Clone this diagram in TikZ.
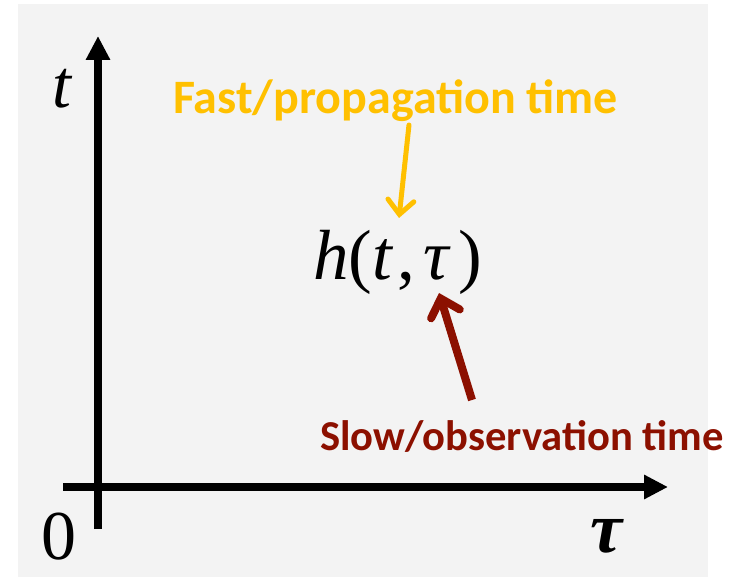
\documentclass[tikz,border=0pt]{standalone}
\usepackage{fontspec}
\setmainfont{Liberation Serif}
\newfontfamily\lblfont{Carlito}
\usetikzlibrary{arrows.meta}
\definecolor{bggrey}{HTML}{F3F3F3}
\definecolor{fastcol}{HTML}{FFC000}
\definecolor{slowcol}{RGB}{140,16,0}
\tikzset{
  axis/.style={line width=8pt, -{Triangle[length=24pt,width=23pt]}},
  lbl/.style={inner sep=0pt, anchor=base west, font=\lblfont\bfseries},
  mathlbl/.style={inner sep=0pt, anchor=base west},
  fastarrow/.style={line width=5pt, color=fastcol, line cap=round, -{Straight Barb[length=14pt,width=26pt,line cap=round]}},
  slowarrow/.style={line width=8pt, color=slowcol, -{Straight Barb[length=16pt,width=30pt,line cap=round]}}
}
\begin{document}
\begin{tikzpicture}[x=1pt,y=-1pt]
\useasboundingbox (0,0) rectangle (742,577);
\fill[bggrey] (18,4) rectangle (708,577);
% axes
\coordinate (tstart) at (98,529);
\coordinate (tend) at (98,36);
\coordinate (xstart) at (63,487);
\coordinate (xend) at (668,487);
\draw[axis] (tstart) -- (tend);
\draw[axis] (xstart) -- (xend);
% labels
\node[mathlbl, font=\fontsize{68}{72}\selectfont] (tlab) at (52,108) {\itshape t};
\node[mathlbl, font=\fontsize{70}{74}\selectfont] (zero) at (41,559) {0};
\node[mathlbl, font=\fontsize{72}{76}\selectfont] (taulab) at (590,552) {\bfseries\itshape τ};
\node[mathlbl, font=\fontsize{71}{75}\selectfont] (h) at (313,280) {\itshape h\upshape(\itshape t\kern5pt\upshape,\kern9pt\itshape τ\kern9pt\upshape)};
\node[lbl, text=fastcol, font=\lblfont\bfseries\fontsize{48}{52}\selectfont] (fast) at (173,114) {Fast/propagation time};
\node[lbl, text=slowcol, font=\lblfont\bfseries\fontsize{42.6}{46}\selectfont] (slow) at (320,450) {Slow/observation time};
% arrows
\coordinate (fa) at (409,125);
\coordinate (fb) at (399,218);
\coordinate (sa) at (472,400);
\coordinate (sb) at (439,293);
\draw[fastarrow] (fa) -- (fb);
\draw[slowarrow] (sa) -- (sb);
\end{tikzpicture}
\end{document}
